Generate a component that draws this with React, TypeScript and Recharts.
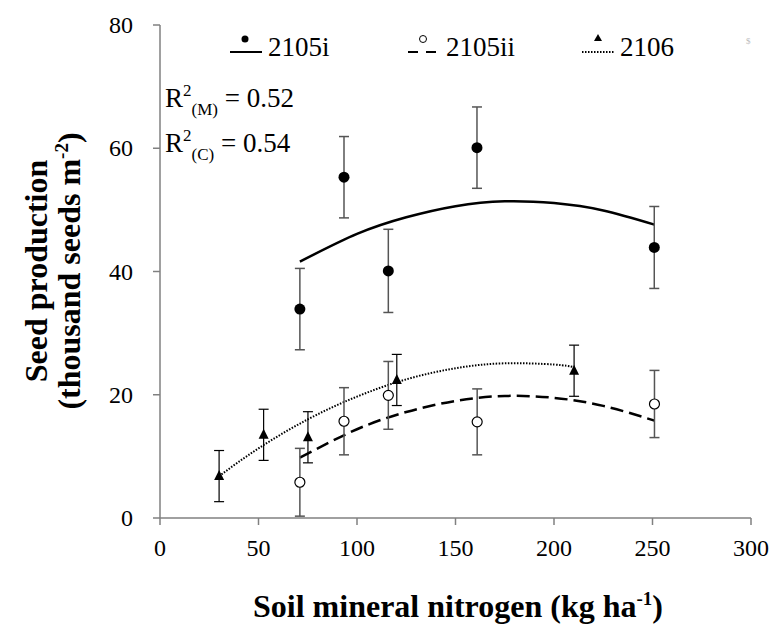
import { ComposedChart, Line, Scatter, ErrorBar, XAxis, YAxis } from 'recharts'

const FONT = 'Liberation Serif'

const xTicks = [0, 50, 100, 150, 200, 250, 300]
const yTicks = [0, 20, 40, 60, 80]

const seriesNames = ['2105i', '2105ii', '2106']

// observed means; err is half the length of the error bar
const obs2105iX = [71, 93.4, 115.9, 160.9, 250.9]
const obs2105iY = [33.9, 55.3, 40.1, 60.1, 43.9]
const obs2105iErr = [6.6, 6.6, 6.75, 6.6, 6.65]

const obs2105iiX = [71, 93.4, 115.9, 161, 251]
const obs2105iiY = [5.8, 15.7, 19.9, 15.6, 18.5]
const obs2105iiErr = [5.5, 5.45, 5.5, 5.35, 5.45]

const obs2106X = [30, 52.6, 75.1, 120.2, 210.2]
const obs2106Y = [6.8, 13.5, 13.1, 22.4, 23.9]
const obs2106Err = [4.15, 4.15, 4.15, 4.15, 4.15]

// fitted curves
const fit2105iX = [71, 100, 125, 150, 175, 200, 225, 251]
const fit2105iY = [41.6, 46.1, 48.8, 50.6, 51.4, 51.1, 49.9, 47.6]
const fit2105iiX = [71, 100, 125, 150, 175, 200, 225, 251]
const fit2105iiY = [9.8, 14.4, 17.2, 19.0, 19.8, 19.5, 18.2, 15.8]
const fit2106X = [30, 50, 75, 100, 125, 150, 175, 200, 210]
const fit2106Y = [6.8, 11.3, 16.0, 19.7, 22.5, 24.3, 25.1, 24.9, 24.5]

const r2Labels = ['0.52', '0.54']

const toPoints = (xs: number[], ys: number[], errs?: number[]) =>
    xs.map((x, i) => ({ x, y: ys[i], err: errs ? errs[i] : 0 }))

const serif = (size: number, bold = false) => ({
    fontFamily: FONT,
    fontSize: size,
    fontWeight: bold ? 700 : 400,
    fill: '#000',
})

const FilledDot = (p: any) => <circle cx={p.cx} cy={p.cy} r={5.5} fill="#000" />
const OpenDot = (p: any) => <circle cx={p.cx} cy={p.cy} r={5} fill="#fff" stroke="#000" strokeWidth={1.2} />
const Tri = (p: any) => (
    <polygon points={`${p.cx},${p.cy - 6} ${p.cx - 5},${p.cy + 4} ${p.cx + 5},${p.cy + 4}`} fill="#000" />
)

const XTick = (p: any) => (
    <text x={p.x} y={p.y} dy={19} textAnchor="middle" style={serif(24)}>
        {p.payload.value}
    </text>
)
const YTick = (p: any) => (
    <text x={p.x} y={p.y} dy={8} textAnchor="end" style={serif(24)}>
        {p.payload.value}
    </text>
)

function LegendItem({ x, name, dash, marker }: { x: number; name: string; dash?: string; marker: string }) {
    return (
        <g>
            <line x1={x} y1={52} x2={x + 32} y2={52} stroke="#000" strokeWidth={2} strokeDasharray={dash} />
            {marker === 'filled' && <circle cx={x + 15} cy={39} r={3.5} fill="#000" />}
            {marker === 'open' && <circle cx={x + 15} cy={39} r={3.5} fill="#fff" stroke="#000" strokeWidth={1} />}
            {marker === 'tri' && <polygon points={`${x + 16},${34} ${x + 12},${41} ${x + 20},${41}`} fill="#000" />}
            <text x={x + 38} y={56} style={serif(27)}>
                {name}
            </text>
        </g>
    )
}

export default function App() {
    const d2105i = toPoints(obs2105iX, obs2105iY, obs2105iErr)
    const d2105ii = toPoints(obs2105iiX, obs2105iiY, obs2105iiErr)
    const d2106 = toPoints(obs2106X, obs2106Y, obs2106Err)

    return (
        <div style={{ position: 'absolute', left: 0, top: 0, width: 771, height: 628, background: '#fff' }}>
            <ComposedChart width={771} height={628} margin={{ top: 25, right: 20, left: 100, bottom: 80 }}>
                <XAxis
                    dataKey="x"
                    type="number"
                    domain={[0, 300]}
                    ticks={xTicks}
                    height={30}
                    stroke="#808080"
                    strokeWidth={1.5}
                    tickSize={7}
                    tickMargin={12}
                    tick={<XTick />}
                />
                <YAxis
                    dataKey="y"
                    type="number"
                    domain={[0, 80]}
                    ticks={yTicks}
                    width={60}
                    stroke="#808080"
                    strokeWidth={1.5}
                    tickSize={7}
                    tickMargin={20}
                    tick={<YTick />}
                />
                <Line
                    data={toPoints(fit2105iX, fit2105iY)}
                    dataKey="y"
                    type="natural"
                    stroke="#000"
                    strokeWidth={2.5}
                    dot={false}
                    isAnimationActive={false}
                />
                <Line
                    data={toPoints(fit2105iiX, fit2105iiY)}
                    dataKey="y"
                    type="natural"
                    stroke="#000"
                    strokeWidth={2.5}
                    strokeDasharray="13 6"
                    dot={false}
                    isAnimationActive={false}
                />
                <Line
                    data={toPoints(fit2106X, fit2106Y)}
                    dataKey="y"
                    type="natural"
                    stroke="#000"
                    strokeWidth={2}
                    strokeDasharray="1.5 1.5"
                    dot={false}
                    isAnimationActive={false}
                />
                <Scatter data={d2105i} dataKey="y" shape={FilledDot} isAnimationActive={false}>
                    <ErrorBar dataKey="err" direction="y" width={5} stroke="#555" strokeWidth={1.5} />
                </Scatter>
                <Scatter data={d2105ii} dataKey="y" shape={OpenDot} isAnimationActive={false}>
                    <ErrorBar dataKey="err" direction="y" width={5} stroke="#555" strokeWidth={1.5} />
                </Scatter>
                <Scatter data={d2106} dataKey="y" shape={Tri} isAnimationActive={false}>
                    <ErrorBar dataKey="err" direction="y" width={5} stroke="#000" strokeWidth={1.2} />
                </Scatter>

                <LegendItem x={230} name={seriesNames[0]} marker="filled" />
                <LegendItem x={408} name={seriesNames[1]} dash="10 8" marker="open" />
                <LegendItem x={582} name={seriesNames[2]} dash="1.5 1.5" marker="tri" />
                <text x={746} y={44} style={{ ...serif(9), fill: '#bbb' }}>$</text>

                <text x={165} y={107} style={serif(27)}>
                    R<tspan dy={-11} style={{ fontSize: 17 }}>2</tspan>
                    <tspan dy={19} style={{ fontSize: 17 }}>(M)</tspan>
                    <tspan dy={-8}> = {r2Labels[0]}</tspan>
                </text>
                <text x={165} y={152} style={serif(27)}>
                    R<tspan dy={-11} style={{ fontSize: 17 }}>2</tspan>
                    <tspan dy={19} style={{ fontSize: 17 }}>(C)</tspan>
                    <tspan dy={-8}> = {r2Labels[1]}</tspan>
                </text>

                <text transform="translate(47,271) rotate(-90)" textAnchor="middle" style={serif(32, true)}>
                    Seed production
                </text>
                <text transform="translate(80,271) rotate(-90)" textAnchor="middle" style={serif(32, true)}>
                    (thousand seeds m<tspan dy={-12} style={{ fontSize: 19 }}>-2</tspan>
                    <tspan dy={12}>)</tspan>
                </text>
                <text x={458} y={617} textAnchor="middle" style={serif(32, true)}>
                    Soil mineral nitrogen (kg ha<tspan dy={-12} style={{ fontSize: 19 }}>-1</tspan>
                    <tspan dy={12}>)</tspan>
                </text>
            </ComposedChart>
        </div>
    )
}
